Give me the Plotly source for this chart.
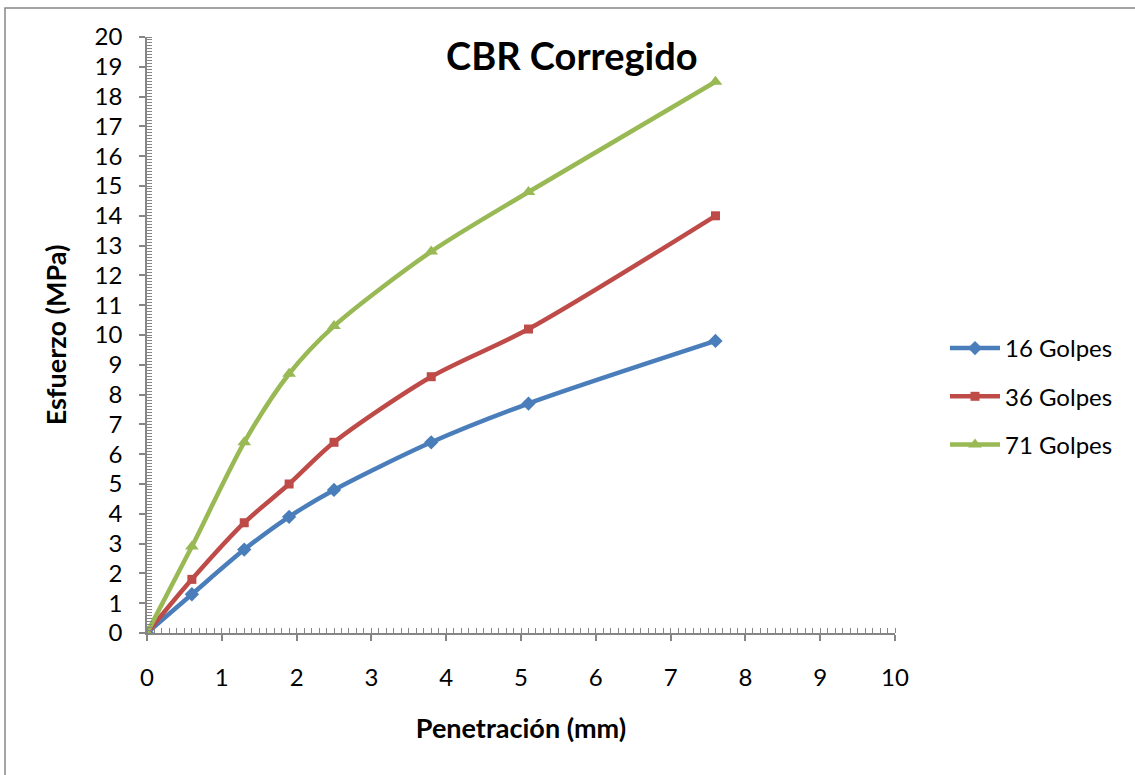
import plotly.graph_objects as go

# Penetration (mm) and corrected stress (MPa) per compaction energy
penetracion = [0, 0.6, 1.3, 1.9, 2.5, 3.8, 5.1, 7.6]
golpes_16 = [0, 1.3, 2.8, 3.9, 4.8, 6.4, 7.7, 9.8]
golpes_36 = [0, 1.8, 3.7, 5.0, 6.4, 8.6, 10.2, 14.0]
golpes_71 = [0, 2.9, 6.4, 8.7, 10.3, 12.8, 14.8, 18.5]

series = [
    ("16 Golpes", golpes_16, "#4A7EBB", "diamond", 11),
    ("36 Golpes", golpes_36, "#BE4B48", "square", 9),
    ("71 Golpes", golpes_71, "#98B954", "triangle-up", 12),
]

W, H = 1135, 775
L, R, T, B = 147, 895, 37, 633

FONT = "Lato, Carlito, 'Liberation Sans', sans-serif"
AXIS_GRAY = "#868686"

fig = go.Figure()
for i, (name, ys, color, symbol, msize) in enumerate(series):
    fig.add_trace(go.Scatter(
        x=penetracion, y=ys, name=name, mode="lines+markers",
        line=dict(color=color, width=4.5, shape="spline", smoothing=0.8),
        marker=dict(symbol=symbol, size=msize, color=color),
        legendgroup=f"g{i}",
    ))

def px_x(p):
    return (p - L) / (R - L)

def px_y(p):
    return (B - p) / (B - T)

fig.update_layout(
    width=W, height=H,
    margin=dict(l=L, r=W - R, t=T, b=H - B),
    paper_bgcolor="white", plot_bgcolor="white",
    font=dict(family=FONT, size=24, color="black"),
    showlegend=True,
    legend=dict(
        x=px_x(945), y=px_y(326), xanchor="left", yanchor="top",
        font=dict(size=24), tracegroupgap=14, itemwidth=50,
        bgcolor="rgba(0,0,0,0)",
    ),
    xaxis=dict(
        range=[0, 10], dtick=1, tick0=0, showgrid=False, zeroline=False,
        showline=True, linecolor=AXIS_GRAY, linewidth=1.5,
        ticks="outside", ticklen=6, tickcolor=AXIS_GRAY, tickwidth=1.5,
        tickfont=dict(size=24), ticklabelstandoff=16,
        minor=dict(ticks="inside", dtick=0.1, ticklen=5, tickcolor=AXIS_GRAY, tickwidth=1, showgrid=False),
        title=dict(text="<b>Penetración (mm)</b>", font=dict(size=27), standoff=30),
    ),
    yaxis=dict(
        range=[0, 20], dtick=1, tick0=0, showgrid=False, zeroline=False,
        showline=True, linecolor=AXIS_GRAY, linewidth=1.5,
        ticks="outside", ticklen=6, tickcolor=AXIS_GRAY, tickwidth=1.5,
        tickfont=dict(size=24), ticklabelstandoff=12,
        minor=dict(ticks="inside", dtick=0.1, ticklen=5, tickcolor=AXIS_GRAY, tickwidth=1, showgrid=False),
        title=dict(text="<b>Esfuerzo (MPa)</b>", font=dict(size=27), standoff=20),
    ),
    annotations=[dict(
        text="<b>CBR Corregido</b>", xref="paper", yref="paper",
        x=px_x(572), y=px_y(55), xanchor="center", yanchor="middle",
        showarrow=False, font=dict(size=38, family=FONT),
    )],
    shapes=[dict(
        type="rect", xref="paper", yref="paper",
        x0=px_x(5), x1=px_x(1145), y0=px_y(790), y1=px_y(8),
        line=dict(color=AXIS_GRAY, width=1.5), layer="below",
    )],
)

fig.write_html("out.html")
